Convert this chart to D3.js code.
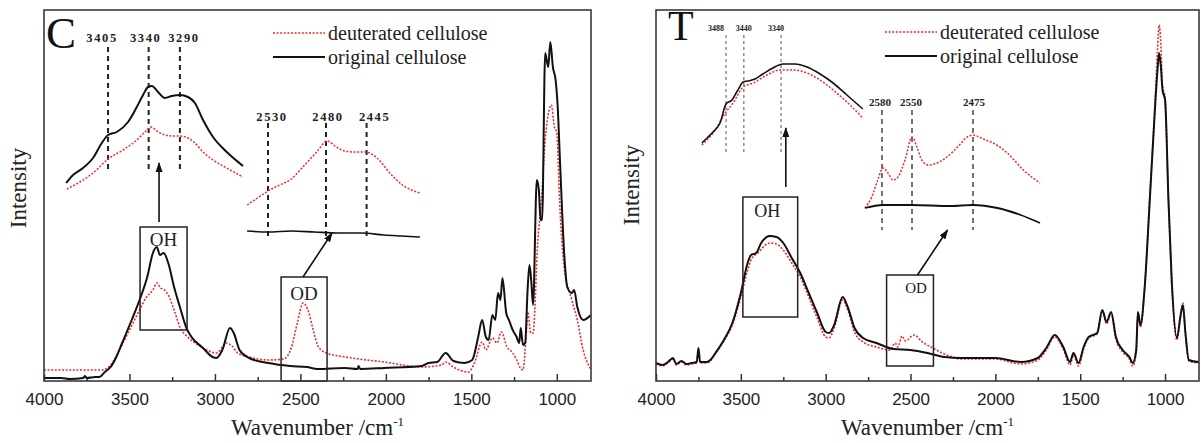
<!DOCTYPE html>
<html>
<head>
<meta charset="utf-8">
<script src="https://cdn.jsdelivr.net/npm/d3@7"></script>
<style>
  body { margin: 0; background: #fff; }
  text { font-family: "Liberation Serif", "Times New Roman", serif; }
  .tick text { font-family: "Liberation Sans", Arial, sans-serif; }
</style>
</head>
<body>
<div id="chart"></div>
<script>
// axis ticks (wavenumber, cm-1)
var majorTicks = [4000, 3500, 3000, 2500, 2000, 1500, 1000];
var minorTicks = [3750, 3250, 2750, 2250, 1750, 1250];
var seriesNames = ["deuterated cellulose", "original cellulose"];

// ---- panel C : main spectra  [wavenumber, intensity a.u.]
var cOrig = [[4000,3],[3900,3],[3850,2],[3770,3],[3760,5],[3750,3],[3700,4],[3678,4],[3644,9],[3610,14],[3577,24],[3543,38],[3487,61],[3441,81],[3396,104],[3363,128],[3340,134],[3322,126],[3300,128],[3273,118],[3239,94],[3205,74],[3167,53],[3137,44],[3070,33],[3014,24],[2991,23],[2957,31],[2912,53],[2890,48],[2856,31],[2800,23],[2687,18],[2560,15],[2462,14],[2400,12],[2240,13],[2165,12],[2160,15],[2150,12],[2010,13],[1790,15],[1750,18],[1700,19],[1650,28],[1605,20],[1540,18],[1495,21],[1460,44],[1437,61],[1415,44],[1399,41],[1377,66],[1360,61],[1344,88],[1330,81],[1318,103],[1296,68],[1280,61],[1258,51],[1235,44],[1220,38],[1211,53],[1198,36],[1185,38],[1171,91],[1160,116],[1150,101],[1139,76],[1117,201],[1105,191],[1095,161],[1086,161],[1068,328],[1050,314],[1038,339],[1023,314],[1007,301],[996,278],[980,214],[957,128],[939,94],[912,88],[899,91],[880,74],[846,61],[800,66]];
var cDeut = [[4000,11],[3800,11],[3660,11],[3610,16],[3550,34],[3500,51],[3450,68],[3400,84],[3363,91],[3340,98],[3318,93],[3295,91],[3273,86],[3239,71],[3205,54],[3160,44],[3115,38],[3047,31],[2991,28],[2957,34],[2935,38],[2900,35],[2867,28],[2800,24],[2687,21],[2597,22],[2552,34],[2518,58],[2484,78],[2450,68],[2428,53],[2394,34],[2349,28],[2237,24],[2012,19],[1787,14],[1674,16],[1651,19],[1606,14],[1516,9],[1482,18],[1437,39],[1415,31],[1377,43],[1350,38],[1325,49],[1291,34],[1258,28],[1235,21],[1213,13],[1198,11],[1180,44],[1169,69],[1153,48],[1139,48],[1111,141],[1090,181],[1068,241],[1045,271],[1032,276],[1014,254],[1000,248],[984,181],[957,114],[912,81],[880,61],[846,31],[808,14],[800,12]];

// panel C : zoomed insets
var cOrigOH = [[3472,17],[3461,25],[3445,32],[3429,42],[3415,57],[3405,65],[3391,68],[3373,78],[3359,93],[3349,105],[3341,113],[3335,114],[3325,108],[3314,102],[3303,104],[3290,105],[3277,103],[3266,97],[3253,80],[3237,63],[3215,48],[3189,34]];
var cDeutOH = [[3471,11],[3450,18],[3429,27],[3405,41],[3381,50],[3359,60],[3346,68],[3336,73],[3327,69],[3314,65],[3301,64],[3290,64],[3277,62],[3266,57],[3253,48],[3237,40],[3215,32],[3189,23]];
var cOrigOD = [[2548,19],[2530,18],[2510,19],[2490,18],[2470,17],[2450,17],[2430,15],[2415,14],[2399,13]];
var cDeutOD = [[2548,45],[2539,52],[2530,59],[2520,65],[2511,70],[2500,83],[2488,98],[2479,109],[2471,103],[2464,99],[2455,98],[2446,98],[2436,92],[2425,77],[2414,65],[2399,57]];
var cPeaksOH = [3405, 3340, 3290];
var cPeaksOD = [2530, 2480, 2445];

// ---- panel T : main spectra
var tOrig = [[4000,18],[3960,16],[3930,19],[3900,23],[3880,17],[3850,20],[3820,17],[3790,18],[3760,19],[3750,33],[3740,19],[3700,19],[3680,21],[3650,28],[3600,41],[3550,58],[3500,88],[3460,118],[3440,126],[3410,128],[3380,138],[3330,145],[3290,144],[3250,138],[3200,123],[3150,108],[3100,88],[3050,68],[3000,49],[2980,48],[2950,56],[2900,84],[2870,74],[2830,53],[2780,43],[2700,38],[2600,32],[2500,31],[2400,28],[2300,24],[2200,23],[2000,23],[1850,19],[1750,23],[1700,33],[1650,46],[1600,34],[1560,19],[1540,28],[1510,18],[1480,34],[1450,44],[1400,48],[1370,71],[1345,59],[1318,69],[1290,44],[1250,31],[1210,24],[1190,18],[1170,31],[1160,69],[1145,56],[1120,94],[1090,181],[1060,271],[1045,310],[1035,328],[1025,315],[1015,291],[1000,281],[980,181],[960,98],[930,43],[910,64],[895,76],[880,48],[860,21],[800,19]];
var tDeut = [[4000,17],[3960,15],[3930,18],[3900,22],[3880,16],[3850,19],[3820,16],[3790,17],[3760,18],[3750,31],[3740,18],[3700,18],[3680,20],[3650,27],[3600,40],[3550,56],[3500,84],[3460,111],[3440,121],[3400,128],[3330,138],[3290,137],[3250,131],[3200,118],[3150,104],[3100,84],[3050,63],[3000,44],[2980,43],[2950,53],[2900,81],[2870,71],[2830,49],[2780,39],[2700,34],[2620,31],[2590,38],[2575,34],[2550,45],[2530,40],[2480,46],[2430,39],[2380,34],[2300,27],[2200,22],[2000,22],[1850,17],[1750,21],[1700,31],[1650,44],[1600,32],[1560,16],[1540,26],[1510,15],[1480,32],[1450,43],[1400,47],[1370,70],[1345,57],[1318,68],[1290,42],[1250,29],[1210,22],[1190,15],[1170,29],[1160,67],[1145,54],[1120,93],[1090,185],[1060,275],[1045,330],[1035,356],[1025,338],[1015,296],[1000,283],[980,181],[960,96],[930,41],[910,63],[895,78],[880,47],[860,20],[800,18]];

// panel T : zoomed insets
var tOrigOH = [[3553,7],[3539,12],[3523,18],[3504,27],[3488,46],[3472,50],[3456,60],[3442,68],[3429,69],[3410,71],[3389,76],[3362,82],[3335,86],[3303,86],[3270,83],[3235,76],[3200,67],[3163,55],[3120,41]];
var tDeutOH = [[3553,5],[3523,17],[3488,38],[3469,47],[3442,63],[3415,67],[3378,75],[3343,80],[3308,80],[3270,77],[3235,70],[3200,60],[3163,48],[3120,32]];
var tOrigOD = [[2600,22],[2579,25],[2550,25],[2503,24],[2475,25],[2446,22],[2418,15],[2395,7]];
var tDeutOD = [[2600,22],[2592,33],[2585,50],[2579,62],[2574,57],[2569,50],[2564,53],[2557,70],[2550,93],[2544,83],[2538,70],[2530,65],[2519,67],[2507,73],[2494,83],[2482,93],[2475,95],[2463,91],[2451,87],[2434,77],[2415,60],[2395,47]];
var tPeaksOH = [3488, 3440, 3340];
var tPeaksOD = [2580, 2550, 2475];

var width = 1201, height = 443;
var red = "#ee2b2b", ink = "#111";

var svg = d3.select("#chart").append("svg")
    .attr("width", width)
    .attr("height", height);

svg.append("defs").append("marker")
    .attr("id", "arrow")
    .attr("viewBox", "0 0 10 10")
    .attr("refX", 9).attr("refY", 5)
    .attr("markerUnits", "userSpaceOnUse")
    .attr("markerWidth", 10).attr("markerHeight", 10)
    .attr("orient", "auto")
  .append("path")
    .attr("d", "M0,1.5 L10,5 L0,8.5 z")
    .attr("fill", ink);

var panels = [
  { letter: "C", x0: 44, x1: 591, y0: 10, y1: 381, letterX: 46, letterY: 48, letterSize: 45,
    orig: cOrig, deut: cDeut, yLabelX: 18, yLabelY: 188,
    legendX: 273, legendY: 33,
    boxes: [{ name: "OH", from: 3438, to: 3163, top: 154, bottom: 51, size: 19, dx: 0, ty: 246 },
            { name: "OD", from: 2613, to: 2344, top: 104, bottom: 0, size: 19, dx: 0, ty: 300 }],
    arrows: [{ from: [3327, 159], to: [3327, 218] }, { from: [2485, 104], to: [2315, 148] }],
    insets: [
      { orig: cOrigOH, deut: cDeutOH, peaks: cPeaksOH, xd: [3475, 3190], xr: [64.3, 242.4], yd: [0, 120], yr: [200, 80],
        lineTop: 47, lineBottom: 170, labelY: 42, labelDx: [-6, -3, 4], labelSize: 12.5, spacing: 1.6,
        dash: "5,4", dashW: 2, dashC: "#222", lw: 2 },
      { orig: cOrigOD, deut: cDeutOD, peaks: cPeaksOD, xd: [2550, 2398], xr: [244.8, 421.1], yd: [0, 120], yr: [250, 130],
        lineTop: 123, lineBottom: 238, labelY: 121, labelDx: [4, 2, 8], labelSize: 12.5, spacing: 1.6,
        dash: "5,4", dashW: 2, dashC: "#222", lw: 1.6 }
    ] },
  { letter: "T", x0: 656, x1: 1199, y0: 10, y1: 381, letterX: 668, letterY: 40, letterSize: 42,
    orig: tOrig, deut: tDeut, yLabelX: 631, yLabelY: 185,
    legendX: 885, legendY: 32,
    boxes: [{ name: "OH", from: 3488, to: 3165, top: 184, bottom: 64, size: 18, dx: -3, ty: 217 },
            { name: "OD", from: 2641, to: 2365, top: 106, bottom: 15, size: 15, dx: 6, ty: 293 }],
    arrows: [{ from: [3235, 194], to: [3235, 253] }, { from: [2459, 106], to: [2282, 151] }],
    insets: [
      { orig: tOrigOH, deut: tDeutOH, peaks: tPeaksOH, xd: [3555, 3118], xr: [701.1, 863.6], yd: [0, 100], yr: [150, 50],
        lineTop: 35, lineBottom: 153, labelY: 31, labelDx: [-10, 0, -5], labelSize: 8, spacing: 0,
        dash: "3,3", dashW: 1, dashC: "#555", lw: 1.6 },
      { orig: tOrigOD, deut: tDeutOD, peaks: tPeaksOD, xd: [2600, 2580, 2550, 2475, 2395], xr: [865, 882, 912, 973, 1040], yd: [0, 100], yr: [230, 130],
        lineTop: 110, lineBottom: 230, labelY: 106, labelDx: [-2, -1, 1], labelSize: 11, spacing: 0,
        dash: "5,4", dashW: 1.5, dashC: "#444", lw: 1.8 }
    ] }
];

panels.forEach(function(p) {
    var x = d3.scaleLinear().domain([4000, 800]).range([p.x0, p.x1]);
    var y = d3.scaleLinear().domain([0, 371]).range([p.y1, p.y0]);
    var g = svg.append("g");

    // bottom axis, ticks pointing inward
    var ax = g.append("g")
        .attr("transform", "translate(0," + p.y1 + ")")
        .call(d3.axisBottom(x).tickValues(majorTicks).tickSize(-7).tickPadding(12).tickFormat(d3.format("d")));
    ax.select(".domain").remove();
    ax.selectAll(".tick line").attr("stroke", "#333").attr("stroke-width", 1.5);
    ax.selectAll(".tick text").attr("font-size", 17).attr("fill", "#222");

    var axm = g.append("g")
        .attr("transform", "translate(0," + p.y1 + ")")
        .call(d3.axisBottom(x).tickValues(minorTicks).tickSize(-4).tickFormat(""));
    axm.select(".domain").remove();
    axm.selectAll(".tick line").attr("stroke", "#333").attr("stroke-width", 1.5);

    var line = d3.line()
        .x(function(d) { return x(d[0]); })
        .y(function(d) { return y(d[1]); })
        .curve(d3.curveMonotoneX);

    g.append("path").datum(p.deut)
        .attr("d", line).attr("fill", "none")
        .attr("stroke", red).attr("stroke-width", 1.6).attr("stroke-dasharray", "2,1.6");
    g.append("path").datum(p.orig)
        .attr("d", line).attr("fill", "none")
        .attr("stroke", ink).attr("stroke-width", 2);

    // region boxes
    p.boxes.forEach(function(b) {
        g.append("rect")
            .attr("x", x(b.from)).attr("y", y(b.top))
            .attr("width", x(b.to) - x(b.from)).attr("height", y(b.bottom) - y(b.top))
            .attr("fill", "none").attr("stroke", "#222").attr("stroke-width", 1.5);
        g.append("text")
            .attr("x", (x(b.from) + x(b.to)) / 2 + b.dx).attr("y", b.ty)
            .attr("text-anchor", "middle").attr("font-size", b.size).attr("fill", "#222")
            .text(b.name);
    });

    p.arrows.forEach(function(a) {
        g.append("line")
            .attr("x1", x(a.from[0])).attr("y1", y(a.from[1]))
            .attr("x2", x(a.to[0])).attr("y2", y(a.to[1]))
            .attr("stroke", ink).attr("stroke-width", 1.6)
            .attr("marker-end", "url(#arrow)");
    });

    // insets
    p.insets.forEach(function(s) {
        var ix = d3.scaleLinear().domain(s.xd).range(s.xr);
        var iy = d3.scaleLinear().domain(s.yd).range(s.yr);
        var iline = d3.line()
            .x(function(d) { return ix(d[0]); })
            .y(function(d) { return iy(d[1]); })
            .curve(d3.curveMonotoneX);

        g.selectAll(null).data(s.peaks).enter().append("line")
            .attr("x1", function(d) { return ix(d); }).attr("x2", function(d) { return ix(d); })
            .attr("y1", s.lineTop).attr("y2", s.lineBottom)
            .attr("stroke", s.dashC).attr("stroke-width", s.dashW).attr("stroke-dasharray", s.dash);
        g.selectAll(null).data(s.peaks).enter().append("text")
            .attr("x", function(d, i) { return ix(d) + s.labelDx[i]; }).attr("y", s.labelY)
            .attr("text-anchor", "middle").attr("font-size", s.labelSize).attr("font-weight", "bold")
            .attr("letter-spacing", s.spacing).attr("fill", "#222")
            .text(function(d) { return d; });

        g.append("path").datum(s.deut)
            .attr("d", iline).attr("fill", "none")
            .attr("stroke", red).attr("stroke-width", 1.5).attr("stroke-dasharray", "2,1.6");
        g.append("path").datum(s.orig)
            .attr("d", iline).attr("fill", "none")
            .attr("stroke", ink).attr("stroke-width", s.lw);
    });

    // frame
    g.append("rect")
        .attr("x", p.x0).attr("y", p.y0)
        .attr("width", p.x1 - p.x0).attr("height", p.y1 - p.y0)
        .attr("fill", "none").attr("stroke", "#3a3a3a").attr("stroke-width", 1.6);

    g.append("text")
        .attr("x", p.letterX).attr("y", p.letterY)
        .attr("font-size", p.letterSize).attr("fill", "#111")
        .text(p.letter);

    // legend
    var leg = g.append("g");
    seriesNames.forEach(function(name, i) {
        var ly = p.legendY + i * 24;
        leg.append("line")
            .attr("x1", p.legendX).attr("x2", p.legendX + 52)
            .attr("y1", ly).attr("y2", ly)
            .attr("stroke", i === 0 ? red : ink)
            .attr("stroke-width", i === 0 ? 1.6 : 2)
            .attr("stroke-dasharray", i === 0 ? "2,1.6" : null);
        leg.append("text")
            .attr("x", p.legendX + 55).attr("y", ly + 7)
            .attr("font-size", 20).attr("fill", "#222")
            .text(name);
    });

    // axis titles
    var xt = g.append("text")
        .attr("x", (p.x0 + p.x1) / 2).attr("y", 435)
        .attr("text-anchor", "middle").attr("font-size", 23).attr("fill", "#222");
    xt.append("tspan").text("Wavenumber /cm");
    xt.append("tspan").attr("dy", -9).attr("font-size", 13).text("-1");

    g.append("text")
        .attr("transform", "translate(" + p.yLabelX + "," + p.yLabelY + ") rotate(-90)")
        .attr("text-anchor", "middle").attr("dy", "0.35em")
        .attr("font-size", 23).attr("fill", "#222")
        .text("Intensity");
});
</script>
</body>
</html>
